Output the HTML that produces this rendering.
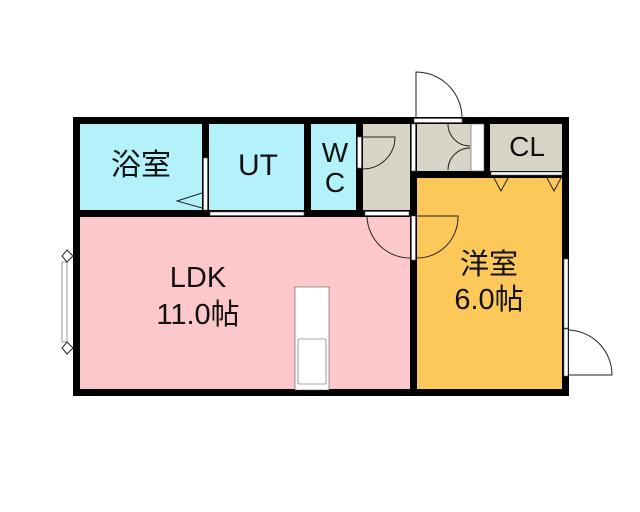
<!DOCTYPE html>
<html><head><meta charset="utf-8"><style>
html,body{margin:0;padding:0;background:#fff;width:640px;height:512px;overflow:hidden}
svg{display:block}
text{font-family:"Liberation Sans","Noto Sans CJK JP",sans-serif;fill:#111}
</style></head><body>
<svg width="640" height="512" viewBox="0 0 640 512">
<rect x="80" y="124" width="124" height="88" fill="#b3f1fb"/>
<rect x="209" y="124" width="97" height="88" fill="#b3f1fb"/>
<rect x="311" y="124" width="47" height="88" fill="#b3f1fb"/>
<rect x="363" y="124" width="48" height="90" fill="#d8d5c8"/>
<rect x="417" y="124" width="68" height="47" fill="#d8d5c8"/>
<rect x="490" y="124" width="73" height="48" fill="#d8d5c8"/>
<rect x="80" y="216" width="331" height="174" fill="#fdc8cb"/>
<rect x="417" y="177" width="146" height="213" fill="#fdc85a"/>
<g fill="#000">
<rect x="73" y="117" width="496" height="7"/>
<rect x="73" y="117" width="7" height="279"/>
<rect x="73" y="389" width="496" height="7"/>
<rect x="562" y="117" width="7" height="279"/>
<rect x="202" y="117" width="7" height="100"/>
<rect x="304" y="117" width="7" height="100"/>
<rect x="356" y="117" width="7" height="100"/>
<rect x="410" y="117" width="7" height="279"/>
<rect x="484" y="117" width="6" height="60"/>
<rect x="73" y="210" width="344" height="7"/>
<rect x="410" y="171" width="159" height="7"/>
</g>
<g fill="#fff" stroke="#555" stroke-width="0.6">
<rect x="203.5" y="158" width="4" height="52"/>
<rect x="210" y="212" width="94" height="3.5"/>
<rect x="357.5" y="137" width="4" height="31"/>
<rect x="365" y="211.5" width="44" height="4"/>
<rect x="411.5" y="216" width="4" height="44"/>
<rect x="411.5" y="124" width="4" height="47"/>
<rect x="414" y="118.5" width="48" height="4"/>
<rect x="471" y="124" width="13" height="47"/>
<rect x="491" y="172" width="71" height="3"/>
<rect x="564" y="259" width="4" height="69"/>
<rect x="564" y="329" width="4" height="47"/>
<rect x="62" y="262" width="5" height="80"/>
<rect x="295" y="287" width="34" height="103"/>
<rect x="298" y="339" width="28" height="45" rx="1"/>
</g>
<g fill="none" stroke="#222" stroke-width="1">
<polyline points="202,193 177,201 202,208"/>
<path d="M363,137 L395,137 A32,32 0 0 1 363,169"/>
<path d="M367,216 A43,43 0 0 0 410,258"/>
<path d="M417,216 L458,216 A41,41 0 0 1 417,258"/>
<path d="M416,119 L416,72 A46,46 0 0 1 462,119"/>
<path d="M448,124 A22,22 0 0 0 470,146"/>
<path d="M448,170 A22,22 0 0 1 470,148"/>
<polyline points="494,178 501,191 508,178"/>
<polyline points="547,178 554,191 561,178"/>
<path d="M568,375 L612,375 A45,45 0 0 0 568,330"/>
<path d="M67,262 L73,256 L67,250 L62,256 Z M67,342 L73,348 L67,354 L62,348 Z"/>
</g>
<text x="141" y="175" font-size="30" text-anchor="middle">浴室</text>
<text x="258" y="175" font-size="30" text-anchor="middle">UT</text>
<text x="335" y="162" font-size="28" text-anchor="middle">W</text>
<text x="335" y="192" font-size="28" text-anchor="middle">C</text>
<text x="527" y="156" font-size="28" text-anchor="middle">CL</text>
<text x="198" y="287" font-size="29" text-anchor="middle">LDK</text>
<text x="198" y="324" font-size="29" text-anchor="middle">11.0帖</text>
<text x="489" y="274" font-size="29" text-anchor="middle">洋室</text>
<text x="489" y="309" font-size="29" text-anchor="middle">6.0帖</text>
</svg>
</body></html>
